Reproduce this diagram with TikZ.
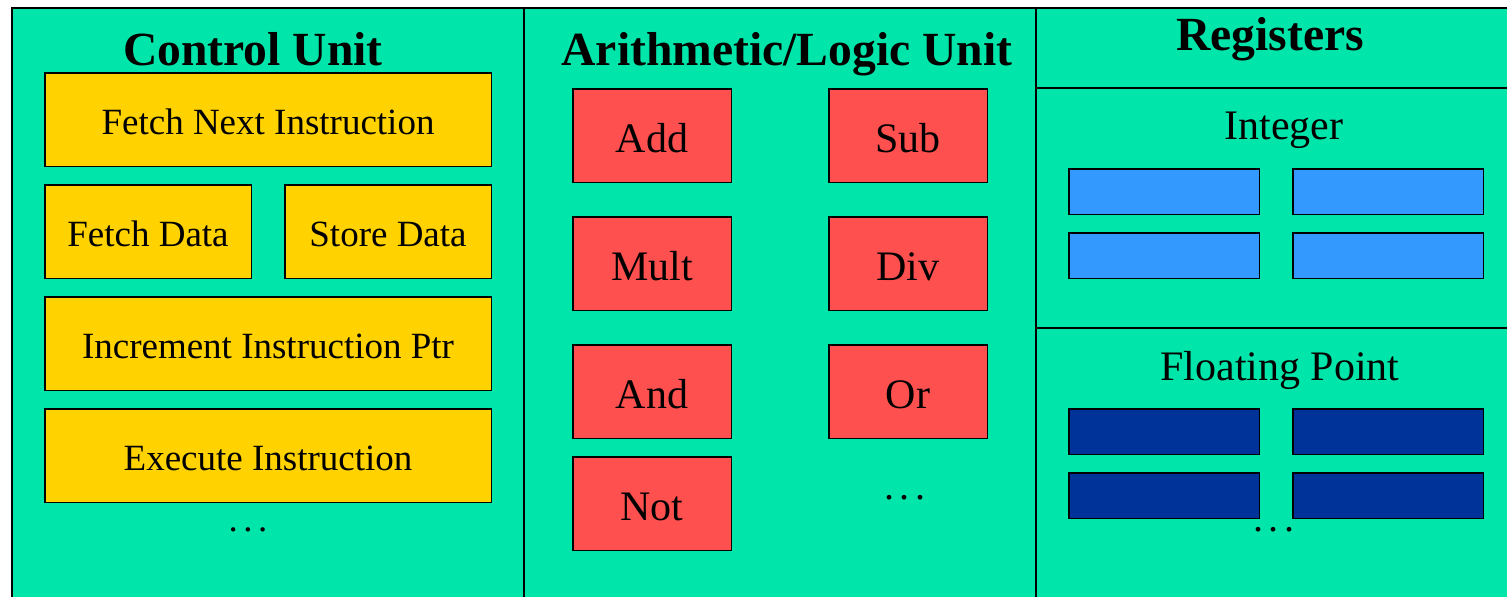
\documentclass[tikz,border=0pt]{standalone}
\usepackage{fontspec}
\setmainfont{Liberation Serif}
\usetikzlibrary{positioning}
\definecolor{panelgreen}{HTML}{00E6AA}
\definecolor{cuyellow}{HTML}{FFD200}
\definecolor{alured}{HTML}{FF5050}
\definecolor{intblue}{HTML}{3399FF}
\definecolor{fpblue}{HTML}{003399}

\begin{document}
\begin{tikzpicture}[
    x=0.5pt, y=-0.5pt,
    % box styles
    cu/.style={rectangle, draw, line width=0.75pt, fill=cuyellow, minimum width=223.25pt, minimum height=46.75pt, align=center, font=\fontsize{18.5}{20}\selectfont, text height=15.2pt, text depth=0pt},
    cuhalf/.style={cu, minimum width=103.25pt},
    alu/.style={rectangle, draw, line width=0.75pt, fill=alured, minimum width=79.25pt, minimum height=46.75pt, font=\fontsize{21}{24}\selectfont, text height=16.9pt, text depth=0pt},
    intreg/.style={rectangle, draw, line width=0.75pt, fill=intblue, minimum width=95.25pt, minimum height=22.75pt},
    fpreg/.style={intreg, fill=fpblue},
    unittitle/.style={font=\bfseries\fontsize{23.8}{26}\selectfont, anchor=base},
    subtitle/.style={font=\fontsize{21}{24}\selectfont, anchor=base},
    moredots/.style={font=\fontsize{20}{24}\selectfont, anchor=base},
    panel/.style={draw, line width=0.9pt},
    node distance=8.5pt and 16pt % vertical and horizontal gaps
]
\newcommand{\spreaddots}{.\kern0.15em.\kern0.15em.}
\useasboundingbox (0,0) rectangle (1507,596);
\clip (0,0) rectangle (1507,596);

% --- panels ---
\fill [panelgreen] (12,8) rectangle (1520,610);
\draw [panel] (12,8) rectangle (1520,610);
\draw [panel] (524,8) -- (524,610);
\draw [panel] (1036,8) -- (1036,610);
\draw [panel, line width=0.7pt] (1036,88) -- (1520,88);
\draw [panel, line width=0.7pt] (1036,328) -- (1520,328);

% --- Control Unit ---
\node (cutitle) [unittitle] at (253,65) {Control Unit};
\node (fetchnext) [cu, anchor=north west] at (44,72) {Fetch Next Instruction};
\node (fetchdata) [cuhalf, below=of fetchnext.south west, anchor=north west] {Fetch Data};
\node (storedata) [cuhalf, right=of fetchdata] {Store Data};
\node (incptr) [cu, below=of fetchdata.south west, anchor=north west] {Increment Instruction Ptr};
\node (execute) [cu, below=of incptr] {Execute Instruction};
\node (cudots) [moredots, font=\fontsize{18.5}{20}\selectfont] at (248,531) {\spreaddots};

% --- Arithmetic/Logic Unit ---
\node (alutitle) [unittitle] at (787,65) {Arithmetic/Logic Unit};
\node (add) [alu, anchor=north west] at (572,88) {Add};
\node (sub) [alu, right=48pt of add] {Sub};
\node (mult) [alu, below=16.5pt of add] {Mult};
\node (div) [alu, right=48pt of mult] {Div};
\node (and) [alu, below=16.5pt of mult] {And};
\node (or) [alu, right=48pt of and] {Or};
\node (not) [alu, below=of and] {Not};
\node (aludots) [moredots] at (905,499) {\spreaddots};

% --- Registers ---
\node (regtitle) [unittitle] at (1270,50) {Registers};

% integer
\node (inttitle) [subtitle] at (1284,139) {Integer};
\node (int1) [intreg, anchor=north west] at (1068,168) {};
\node (int2) [intreg, right=of int1] {};
\node (int3) [intreg, below=of int1] {};
\node (int4) [intreg, right=of int3] {};

% floating point
\node (fptitle) [subtitle] at (1280,380) {Floating Point};
\node (fp1) [fpreg, anchor=north west] at (1068,408) {};
\node (fp2) [fpreg, right=of fp1] {};
\node (fp3) [fpreg, below=of fp1] {};
\node (fp4) [fpreg, right=of fp3] {};
\node (regdots) [moredots] at (1274,531) {\spreaddots};

\end{tikzpicture}
\end{document}
